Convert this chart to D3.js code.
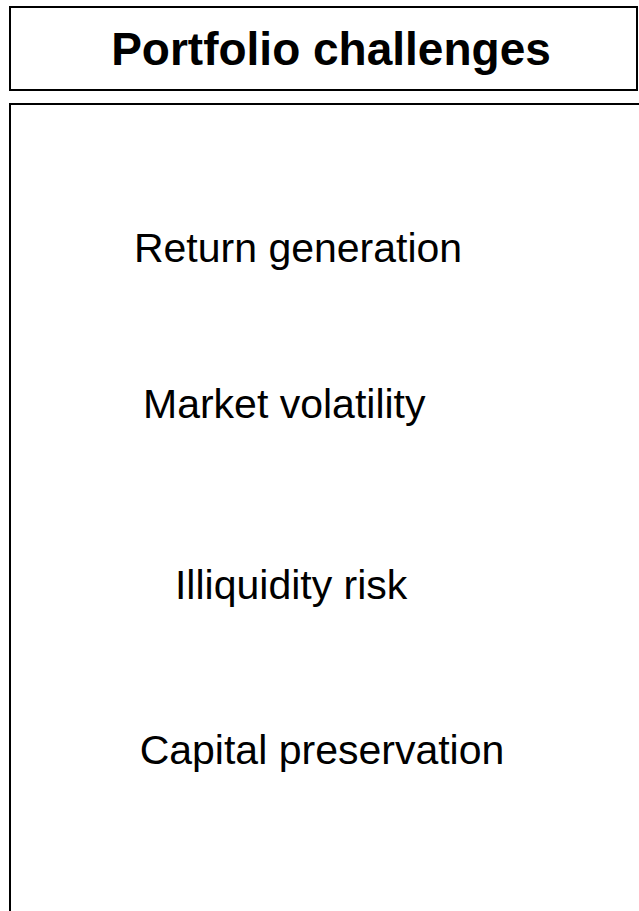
<!DOCTYPE html>
<html>
<head>
<meta charset="utf-8">
<script src="https://cdn.jsdelivr.net/npm/d3@7"></script>
<style>
    body { margin: 0; background: #fff; }
    text { font-family: "Liberation Sans", Arial, Helvetica, sans-serif; }
</style>
</head>
<body>
<div id="chart"></div>
<script>
// Chart content
const title = "Portfolio challenges";
const challenges = ["Return generation", "Market volatility", "Illiquidity risk", "Capital preservation"];
// label anchor position inside the panel, in 0..1 panel units
const labelX = [0.458, 0.436, 0.447, 0.496];
const labelY = [0.196, 0.389, 0.613, 0.818];

document.addEventListener('DOMContentLoaded', function () {
    const width = 639;
    const height = 911;

    const svg = d3.select("#chart")
        .append("svg")
        .attr("width", width)
        .attr("height", height);

    // Title box
    const titleBox = { x: 10, y: 7, w: 627, h: 83 };
    svg.append("rect")
        .attr("x", titleBox.x)
        .attr("y", titleBox.y)
        .attr("width", titleBox.w)
        .attr("height", titleBox.h)
        .attr("fill", "none")
        .attr("stroke", "#000")
        .attr("stroke-width", 2);

    svg.append("text")
        .attr("x", 331)
        .attr("y", 65)
        .attr("text-anchor", "middle")
        .style("font-size", "46px")
        .style("font-weight", "bold")
        .text(title);

    // Panel, runs off the right and bottom edges
    const panel = { x: 10, y: 104, w: 640, h: 820 };
    svg.append("rect")
        .attr("x", panel.x)
        .attr("y", panel.y)
        .attr("width", panel.w)
        .attr("height", panel.h)
        .attr("fill", "none")
        .attr("stroke", "#000")
        .attr("stroke-width", 2);

    const xScale = d3.scaleLinear().domain([0, 1]).range([panel.x, 639]);
    const yScale = d3.scaleLinear().domain([0, 1]).range([panel.y, 911]);

    svg.selectAll(".label")
        .data(challenges)
        .enter()
        .append("text")
        .attr("class", "label")
        .attr("x", (d, i) => xScale(labelX[i]))
        .attr("y", (d, i) => yScale(labelY[i]))
        .attr("text-anchor", "middle")
        .style("font-size", "41px")
        .text(d => d);
});
</script>
</body>
</html>
